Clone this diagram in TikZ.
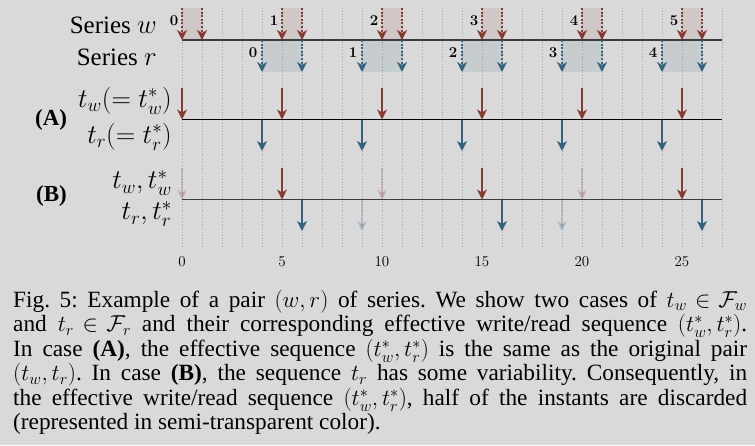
\documentclass[tikz,border=0pt]{standalone}
\usepackage[no-math]{fontspec}
\setmainfont{Liberation Serif}
\DeclareFontShape{OML}{cmm}{m}{it}{<-6>cmmi5<6-7>cmmi6<7-8>cmmi7<8-9>cmmi8<9-10>cmmi9<10-12>cmmi10<12->cmmi12}{}
\DeclareFontShape{OMS}{cmsy}{m}{n}{<-6>cmsy5<6-7>cmsy6<7-8>cmsy7<8-9>cmsy8<9-10>cmsy9<10->cmsy10}{}
\DeclareFontShape{OT1}{cmr}{m}{n}{<-6>cmr5<6-7>cmr6<7-8>cmr7<8-9>cmr8<9-10>cmr9<10-12>cmr10<12-17>cmr12<17->cmr17}{}
\DeclareFontShape{OT1}{cmr}{bx}{n}{<-6>cmbx5<6-7>cmbx6<7-8>cmbx7<8-9>cmbx8<9-10>cmbx9<10-12>cmbx10<12->cmbx12}{}
\DeclareFontShape{OMX}{cmex}{m}{n}{<->cmex10}{}
\usetikzlibrary{arrows.meta}
\newcommand{\mm}[1]{{\fontsize{23}{24.5}\selectfont$#1$}}
\newcommand{\ml}[1]{{\fontsize{27}{28}\selectfont$#1$}}
\definecolor{bgc}{RGB}{217,217,217}
\definecolor{wred}{RGB}{135,58,48}
\definecolor{rblue}{RGB}{50,100,128}
\definecolor{gridc}{RGB}{165,165,165}
\definecolor{axisc}{RGB}{60,60,60}
\begin{document}
\begin{tikzpicture}[x=1pt,y=-1pt,
  arr/.style={-{Stealth[length=10pt,width=10pt,inset=3pt]}, line width=1.8pt},
  warr/.style={arr, wred},
  rarr/.style={arr, rblue},
  dotarr/.style={dash pattern=on 2pt off 1.6pt},
  faint/.style={opacity=0.2},
  gridline/.style={gridc, dotted, line width=0.8pt},
  lab/.style={font=\fontsize{25}{28}\selectfont, anchor=east, inner sep=0pt},
  case/.style={font=\fontsize{23}{26}\selectfont\bfseries, anchor=west, inner sep=0pt},
  num/.style={font=\fontsize{15}{17}\selectfont, inner sep=0pt},
  tick/.style={font=\fontsize{15}{18}\selectfont, inner sep=0pt},
  wbox/.style={fill=wred, fill opacity=0.1},
  rbox/.style={fill=rblue, fill opacity=0.1}]
\fill[bgc] (0,0) rectangle (755,445);
\useasboundingbox (0,0) rectangle (755,445);
% grid
\foreach \t in {0,...,27} \draw[gridline] ({182+20*\t},8) -- ({182+20*\t},248);
% ---- top: series windows
\foreach \k in {0,...,5} {
  \fill[wbox] ({182+100*\k},8) rectangle ({202+100*\k},40);
  \node[num] (wn\k) at ({182+100*\k-8},21) {$\mathbf{\k}$};
}
\foreach \k in {0,...,4} {
  \fill[rbox] ({262+100*\k},40) rectangle ({302+100*\k},72);
  \node[num] (rn\k) at ({262+100*\k-9},53) {$\mathbf{\k}$};
}
\coordinate (l0s) at (182,40);
\coordinate (l0e) at (722,40);
\draw[axisc, line width=1.3pt] (l0s) -- (l0e);
\foreach \k in {0,...,5} {
  \draw[warr, dotarr] ({182+100*\k},8) -- ({182+100*\k},40);
  \draw[warr, dotarr] ({202+100*\k},8) -- ({202+100*\k},40);
}
\foreach \k in {0,...,4} {
  \draw[rarr, dotarr] ({262+100*\k},40) -- ({262+100*\k},72);
  \draw[rarr, dotarr] ({302+100*\k},40) -- ({302+100*\k},72);
}
\node[lab] (sw) at (157,25) {Series \ml{w}};
\node[lab] (sr) at (157,57) {Series \ml{r}};
% ---- case A
\coordinate (las) at (182,119.5);
\coordinate (lae) at (722,119.5);
\draw[black, line width=1.5pt] (las) -- (lae);
\foreach \k in {0,...,5} \draw[warr] ({182+100*\k},88) -- ({182+100*\k},119.5);
\foreach \k in {0,...,4} \draw[rarr] ({262+100*\k},119.5) -- ({262+100*\k},151);
\node[case] (ca) at (35,120) {(A)};
\node[lab] (taw) at (172,101) {\ml{t_w(=t_w^*)}};
\node[lab] (tar) at (172,137) {\ml{t_r(=t_r^*)}};
% ---- case B
\coordinate (lbs) at (182,199.5);
\coordinate (lbe) at (722,199.5);
\draw[axisc, line width=1.3pt] (lbs) -- (lbe);
\foreach \t in {5,15,25} \draw[warr] ({182+20*\t},168) -- ({182+20*\t},199.5);
\foreach \t in {0,10,20} \draw[warr, faint] ({182+20*\t},168) -- ({182+20*\t},199.5);
\foreach \t in {6,16,26} \draw[rarr] ({182+20*\t},199.5) -- ({182+20*\t},231);
\foreach \t in {9,19} \draw[rarr, faint] ({182+20*\t},199.5) -- ({182+20*\t},231);
\node[case] (cb) at (36,196) {(B)};
\node[lab] (tbw) at (172,183) {\ml{t_w, t_w^*}};
\node[lab] (tbr) at (172,214) {\ml{t_r, t_r^*}};
% ticks
\foreach \t in {0,5,...,25} \node[tick] (tk\t) at ({182+20*\t},262) {$\t$};
% caption
\node[anchor=north west, text width=734pt, inner sep=0pt, align=justify,
  font=\fontsize{23.3}{24.5}\selectfont] (cap) at (13,290) {\noindent\frenchspacing
\thickmuskip=5mu plus 1mu\medmuskip=4mu plus 1mu
Fig.~5: Example of a pair \mm{(w,r)} of series. We show two cases of \mm{t_w \in \mathcal{F}_w}\linebreak
and \mm{t_r \in \mathcal{F}_r} and their corresponding effective write/read sequence \mm{(t_w^*, t_r^*)}.\linebreak
In case \textbf{(A)}, the effective sequence \mm{(t_w^*, t_r^*)} is the same as the original pair\linebreak
\mm{(t_w, t_r)}. In case \textbf{(B)}, the sequence \mm{t_r} has some variability. Consequently, in\linebreak
the effective write/read sequence \mm{(t_w^*, t_r^*)}, half of the instants are discarded\linebreak
(represented in semi-transparent color).};
\end{tikzpicture}
\end{document}
